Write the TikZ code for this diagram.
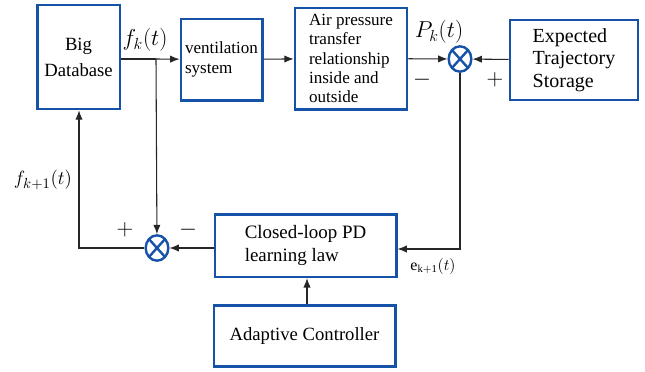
\documentclass[tikz,border=0pt]{standalone}
\usepackage{amsmath}
\usepackage{fontspec}
\setmainfont{Liberation Serif}
\usetikzlibrary{shapes.geometric, arrows.meta}
\definecolor{boxblue}{RGB}{22,82,168}

\begin{document}
\begin{tikzpicture}
		[x=0.75pt, y=-0.75pt,
		>={Latex[length=7pt,width=5.5pt]},
		blk/.style = {draw=boxblue, line width=2pt, rectangle, inner sep=3pt, font=\fontsize{13.5}{15}\selectfont},
		sum/.style = {draw=boxblue, line width=1.8pt, ellipse, minimum width=17pt, minimum height=19pt, inner sep=0pt,
			path picture={\draw[boxblue, line width=1.8pt]
				(path picture bounding box.north west) -- (path picture bounding box.south east)
				(path picture bounding box.north east) -- (path picture bounding box.south west);}},
		lbl/.style = {inner sep=0pt, font=\fontsize{16}{18}\selectfont},
		ln/.style = {line width=0.8pt, black!85}]

		\useasboundingbox (0,0) rectangle (645,371);

		% blocks
		\node[blk, minimum width=62pt, minimum height=78pt, align=center, font=\fontsize{14}{19.5}\selectfont] (db) at (78.5,57)
			{Big\\Database};
		\node[blk, minimum width=61pt, minimum height=61pt, align=left, font=\fontsize{12.8}{15.5}\selectfont] (vent) at (221.5,59.5)
			{ventilation\\system};
		\node[blk, minimum width=84pt, minimum height=76pt, align=left, font=\fontsize{12.8}{14.4}\selectfont] (air) at (351,58.5)
			{Air pressure\\transfer\\relationship\\inside and\\outside};
		\node[blk, minimum width=96pt, minimum height=60pt, align=left, font=\fontsize{15}{17}\selectfont] (exp) at (574,60)
			{Expected\\Trajectory\\Storage};
		\node[blk, minimum width=136pt, minimum height=47pt, align=left, font=\fontsize{14.2}{17}\selectfont] (pd) at (305.5,245.5)
			{Closed-loop PD\\learning law};
		\node[blk, minimum width=136pt, minimum height=46pt, font=\fontsize{14}{16}\selectfont] (ac) at (304.5,336)
			{Adaptive Controller};

		% junctions
		\node[sum] (s1) at (460,59) {};
		\node[sum] (s2) at (157,248) {};
		\coordinate (br) at (156,59);
		\coordinate (c1) at (460,249);
		\coordinate (c2) at (79,248);

		% connectors
		\draw[ln] (db.east |- br) -- (br);
		\draw[ln, ->] (br) -- (vent);
		\draw[ln, ->] (vent) -- (air);
		\draw[ln, ->] (air) -- (s1);
		\draw[ln, ->] (exp) -- (s1);
		\draw[ln, ->] (br) -- (s2);
		\draw[ln, ->] (s1) |- (pd.east |- c1);
		\draw[ln, ->] (pd.west |- s2) -- (s2);
		\draw[ln, ->] (s2) -| (db.south -| c2);
		\draw[ln, ->] (ac.north -| 307,0) -- (pd.south -| 307,0);

		% labels
		\node[lbl, font=\fontsize{18}{20}\selectfont] (fk) at (145,40) {$f_k(t)$};
		\node[lbl, font=\fontsize{17}{19}\selectfont] (pk) at (439,32) {$P_k(t)$};
		\node[lbl, font=\fontsize{15}{17}\selectfont] (fk1) at (43,180) {$f_{k+1}(t)$};
		\node[lbl, font=\fontsize{12}{14}\selectfont] (ek1) at (433,266) {$\mathrm{e}_{\mathrm{k+1}}(t)$};
		\node[lbl] (m1) at (422,80) {$-$};
		\node[lbl] (p1) at (495,80) {$+$};
		\node[lbl] (p2) at (125,230) {$+$};
		\node[lbl] (m2) at (188,230) {$-$};
	\end{tikzpicture}
\end{document}
